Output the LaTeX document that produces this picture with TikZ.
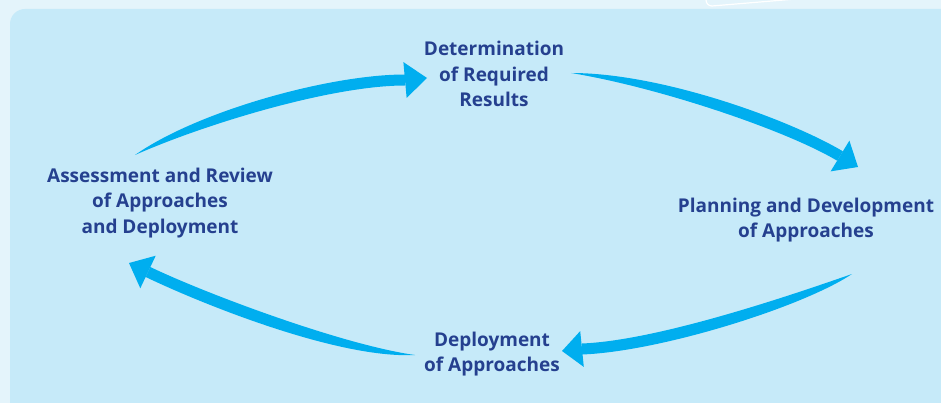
\documentclass[tikz,border=0pt]{standalone}
\usepackage{fontspec}
\setmainfont{Open Sans}
\usetikzlibrary{calc}

\definecolor{pagebg}{HTML}{E4F4FB}
\definecolor{panelbg}{HTML}{C6EAF9}
\definecolor{arrowblue}{HTML}{00AEEF}
\definecolor{textblue}{HTML}{25408F}

\tikzset{
  stage/.style={align=center, font=\bfseries\fontsize{19}{25.5}\selectfont, text=textblue, inner sep=0pt},
}

\begin{document}
\begin{tikzpicture}[x=1pt,y=-1pt]
    \useasboundingbox (0,0) rectangle (941,403);
    \clip (0,0) rectangle (941,403);
    % background
    \fill[pagebg] (0,0) rectangle (941,403);
    \draw[white, line width=1.2pt] (706,-20) -- (706,0) arc[start angle=180,end angle=90,radius=6] -- (856,-6);
    \draw[white, line width=1.2pt] (906,-10) arc[start angle=180,end angle=230,radius=30];
    \fill[panelbg, rounded corners=15pt] (10,9) rectangle (960,420);

    % stages
    \node[stage] (results) at (494,74) {Determination\\of Required\\Results};
    \node[stage] (planning) at (806,220) {Planning and Development\\of Approaches};
    \node[stage] (deploy) at (492,354) {Deployment\\of Approaches};
    \node[stage] (review) at (160,203) {Assessment and Review\\of Approaches\\and Deployment};

    % arrow points: tail, control, control, base, tip
    \coordinate (t1) at (135,155); \coordinate (p1) at (200,118); \coordinate (q1) at (330,80);  \coordinate (b1) at (405,80);   \coordinate (h1) at (427,78);
    \coordinate (t2) at (571,73);  \coordinate (p2) at (660,80);  \coordinate (q2) at (788,125); \coordinate (b2) at (840,156);  \coordinate (h2) at (858,167);
    \coordinate (t3) at (852,274); \coordinate (p3) at (800,300); \coordinate (q3) at (660,346); \coordinate (b3) at (582,349);  \coordinate (h3) at (562,351);
    \coordinate (t4) at (415,355); \coordinate (p4) at (340,352); \coordinate (q4) at (202,298); \coordinate (b4) at (148,272);  \coordinate (h4) at (129,263);

    \foreach \i in {1,...,4} {
      \fill[arrowblue] (t\i) .. controls ($(p\i)!7.5pt!90:(q\i)$) and ($(q\i)!5.5pt!90:(b\i)$) .. ($(b\i)!5.5pt!-90:(q\i)$)
        -- ($(b\i)!5.5pt!90:(q\i)$) .. controls ($(q\i)!5.5pt!-90:(b\i)$) and ($(p\i)!7.5pt!-90:(q\i)$) .. (t\i) -- cycle;
      \fill[arrowblue] (h\i) -- ($(b\i)!18pt!90:(h\i)$) -- ($(b\i)!18pt!-90:(h\i)$) -- cycle;
    }
\end{tikzpicture}
\end{document}
